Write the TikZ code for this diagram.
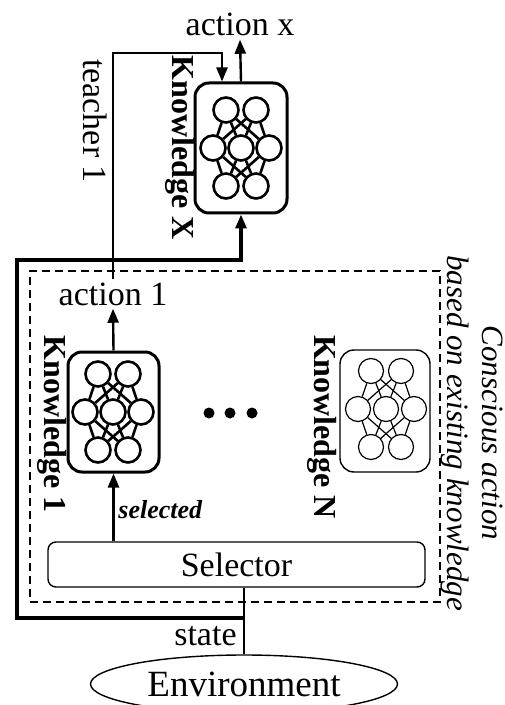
\documentclass[tikz,border=0pt]{standalone}
\usepackage{fontspec}
\setmainfont{Liberation Serif}
\usetikzlibrary{arrows.meta,positioning,shapes.geometric}

\begin{document}
\begin{tikzpicture}[
    x=0.5pt, y=-0.5pt,
    txt/.style={font=\fontsize{17}{20}\selectfont, inner sep=1.5pt},
    klabel/.style={rotate=-90, font=\fontsize{16}{19}\selectfont\bfseries},
    kbox/.style={draw, rounded corners=7pt, line width=1.5pt,
        minimum width=45.5pt, minimum height=60pt},
    frame/.style={draw, line width=0.8pt, dash pattern=on 4pt off 2.5pt,
        minimum width=205pt, minimum height=165.5pt},
    neuron/.style={circle, draw, inner sep=0pt, minimum size=12.5pt},
    dot/.style={circle, fill, inner sep=0pt, minimum size=5.5pt},
    myarrow/.style={line width=1.2pt, -{Triangle[length=7pt,width=5.5pt]}},
    myline/.style={line width=1.2pt}
    ]
    \useasboundingbox (0,0) rectangle (504,705);

    \node[frame] (frame) at (235,436.5) {};
    \node[kbox, minimum width=46pt, minimum height=65pt] (kxbox) at (241,148) {};
    \node[kbox] (k1box) at (113.5,412) {};
    \node[kbox, line width=0.7pt, minimum width=45pt, minimum height=61pt] (knbox) at (385,411) {};

    \foreach \n/\cx/\cy/\w in {kx/241/148/1.3pt, k1/113/412/1.3pt, kn/386/409/0.6pt} {
        \node[neuron, line width=\w] (\n-t1) at (\cx-15,\cy-38) {};
        \node[neuron, line width=\w] (\n-t2) at (\cx+15,\cy-38) {};
        \node[neuron, line width=\w] (\n-m1) at (\cx-28,\cy) {};
        \node[neuron, line width=\w] (\n-m2) at (\cx,\cy) {};
        \node[neuron, line width=\w] (\n-m3) at (\cx+28,\cy) {};
        \node[neuron, line width=\w] (\n-b1) at (\cx-15,\cy+38) {};
        \node[neuron, line width=\w] (\n-b2) at (\cx+15,\cy+38) {};
        \foreach \a in {t1,t2,b1,b2}
            \foreach \b in {m1,m2,m3}
                \draw[line width=\w] (\n-\a) -- (\n-\b);
    }

    \node[klabel] (kxlab) at (180,148) {Knowledge X};
    \node[klabel] (k1lab) at (52,424) {Knowledge 1};
    \node[klabel] (knlab) at (322,427) {Knowledge N};

    \foreach \i/\x in {1/209,2/230,3/252}
        \node[dot] (dot\i) at (\x,413) {};

    \node[txt, anchor=base] (actx) at (240,36) {action x};
    \node[txt, anchor=base] (act1) at (113,305) {action 1};
    \node[txt, rotate=-90] (teach) at (95,121) {teacher 1};
    \node[txt, draw, rounded corners=4pt, line width=0.7pt,
        minimum width=188.5pt, minimum height=22.5pt] (sel) at (236.5,564.5) {Selector};
    \node[ellipse, draw, line width=0.7pt, inner sep=0pt, minimum width=153.5pt,
        minimum height=29pt, font=\fontsize{18.5}{22}\selectfont] (env) at (244,684) {Environment};
    \node[txt, anchor=east] (statelab) at (240,636) {state};
    \node[font=\fontsize{13}{15}\selectfont\bfseries\itshape, anchor=west,
        inner sep=0pt] (selab) at (118,510) {selected};
    \node[rotate=-90, align=center, font=\fontsize{15.5}{17.5}\selectfont\itshape]
        (consc) at (472,433) {Conscious action\\based on existing knowledge};

    \coordinate (split) at (244,618);
    \coordinate (lcorner) at (17,260);
    \coordinate (tcorner) at (222,53);

    \draw[myline] (env.north) -- (env.north |- sel.south);
    \draw[myarrow, line width=1.6pt] (split) -| (lcorner) -| (kxbox.south);
    \draw[myarrow] (sel.north -| k1box.south) -- (k1box.south);
    \draw[myarrow] (k1box.north) -- (act1.south);
    \draw[myarrow] (act1.north) |- (tcorner) -- (tcorner |- kxbox.north);
    \draw[myarrow] (kxbox.north) -- (actx.south);
\end{tikzpicture}
\end{document}
